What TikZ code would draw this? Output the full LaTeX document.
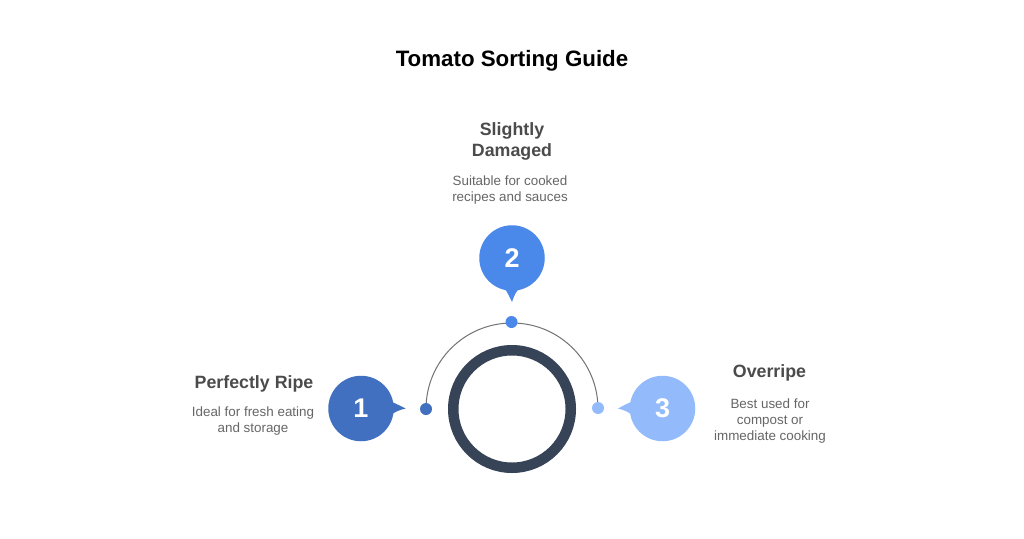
\documentclass[tikz,border=0pt]{standalone}
\usepackage{fontspec}
\setmainfont{Liberation Sans}
\definecolor{cone}{HTML}{4070BF}
\definecolor{ctwo}{HTML}{4A88EA}
\definecolor{cthree}{HTML}{93BBFB}
\definecolor{ringc}{HTML}{374357}
\definecolor{headc}{HTML}{4B4B4B}
\definecolor{bodyc}{HTML}{666666}
\tikzset{
  x=1pt,y=-1pt,
  bubble/.style={circle,minimum size=65.5pt,inner sep=0pt,text=white,font=\bfseries\fontsize{27}{27}\selectfont},
  dotnode/.style={circle,minimum size=12pt,inner sep=0pt},
  headtext/.style={text=headc,align=center,font=\bfseries\fontsize{17.8}{21.5}\selectfont},
  bodytext/.style={text=bodyc,align=center,font=\fontsize{13.4}{16.3}\selectfont},
}
\begin{document}
\begin{tikzpicture}
\useasboundingbox (0,0) rectangle (1024,538);
\fill[white] (0,0) rectangle (1024,538);
\node[font=\bfseries\fontsize{22.3}{28}\selectfont,text=black] (title) at (512,60.5) {Tomato Sorting Guide};
% connector arc
\coordinate (arcL) at (426,409);
\coordinate (arcR) at (598,409);
\draw[line width=1pt,color=black!55] (arcL) arc[start angle=180,end angle=360,radius=86];
% central ring
\node[circle,draw=ringc,line width=10.5pt,minimum size=117.5pt,inner sep=0pt] (ring) at (512,409) {};
% bubble tips
\fill[cone] (390,401) .. controls (394,403) and (399,405) .. (405.7,408.5) .. controls (399,410) and (394,412) .. (390,416) -- cycle;
\fill[ctwo] (504,288) .. controls (507,291) and (509,296) .. (512,302) .. controls (514,296) and (516,291) .. (520,288) -- cycle;
\fill[cthree] (633,401) .. controls (629,403) and (624,405) .. (618,408.5) .. controls (624,410) and (629,412) .. (633,416) -- cycle;
% bubbles
\node[bubble,fill=cone] (b1) at (361,408.5) {1};
\node[bubble,fill=ctwo] (b2) at (512,258) {2};
\node[bubble,fill=cthree] (b3) at (662.5,408.5) {3};
% dots
\node[dotnode,fill=cone] (d1) at (arcL) {};
\node[dotnode,fill=ctwo] (d2) at (511.5,322) {};
\node[dotnode,fill=cthree] (d3) at (598,408) {};
% labels
\node[headtext] (h1) at (254,384) {Perfectly Ripe};
\node[bodytext] (t1) at (253,421) {Ideal for fresh eating\\and storage};
\node[headtext] (h2) at (512,141.5) {Slightly\\Damaged};
\node[bodytext] (t2) at (510,190) {Suitable for cooked\\recipes and sauces};
\node[headtext] (h3) at (769.5,373) {Overripe};
\node[bodytext] (t3) at (770,421) {Best used for\\compost or\\immediate cooking};
\end{tikzpicture}
\end{document}
